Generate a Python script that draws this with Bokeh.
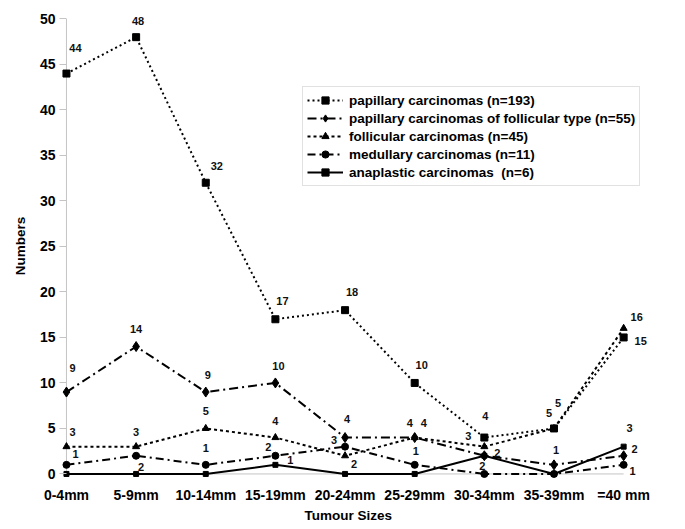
from bokeh.plotting import figure
from bokeh.models import (ColumnDataSource, LabelSet, Legend, LegendItem,
                          FixedTicker, Range1d, Title)
from bokeh.core.properties import value
from bokeh.embed import file_html
from bokeh.resources import INLINE

# ---- data ----
sizes = ["0-4mm", "5-9mm", "10-14mm", "15-19mm", "20-24mm",
         "25-29mm", "30-34mm", "35-39mm", "=40 mm"]
papillary = [44, 48, 32, 17, 18, 10, 4, 5, 15]
pap_follicular = [9, 14, 9, 10, 4, 4, 2, 1, 2]
follicular = [3, 3, 5, 4, 2, 4, 3, 5, 16]
medullary = [1, 2, 1, 2, 3, 1, 0, 0, 1]
anaplastic = [0, 0, 0, 1, 0, 0, 2, 0, 3]
y_ticks = list(range(0, 51, 5))

names = ["papillary carcinomas (n=193)",
         "papillary carcinomas of follicular type (n=55)",
         "follicular carcinomas (n=45)",
         "medullary carcinomas (n=11)",
         "anaplastic carcinomas  (n=6)"]

# ---- label offsets in pixels (dx right, dy down) ----
pap_off = [(9, -26), (2, -16), (11, -17), (7, -18), (7, -18), (7, -18), (1, -22), (-5, -15), (17, 4)]
pft_off = [(6, -24), (0, -18), (2, -17), (3, -17), (2, -19), (9, -15), (13, -3), (2, -15), (11, -7)]
fol_off = [(6, -15), (0, -15), (0, -17), (0, -17), (9, 8), (-5, -15), (-16, -11), (4, -25), (13, -11)]
med_off = [(9, -11), (5, 11), (0, -17), (-7, -9), (-11, -7), (1, -14), (0, 0), (0, 0), (9, 6)]
ana_off = [(0, 0), (0, 0), (0, 0), (15, -5), (0, 0), (0, 0), (-2, 10), (0, 0), (6, -19)]

FONT = "Liberation Sans"
AXIS_GREY = "#c4c4c4"

p = figure(frame_width=592, frame_height=465,
           min_border_left=59, min_border_right=20, min_border_top=13, min_border_bottom=5,
           x_range=Range1d(-0.1, 8.4), y_range=Range1d(-0.5, 50.6),
           output_backend="svg", toolbar_location=None, tools="")
p.outline_line_color = None
p.xgrid.visible = False
p.ygrid.visible = False
p.background_fill_color = "white"
p.border_fill_color = "white"

xs = list(range(len(sizes)))

# axis lines drawn at the data origin
p.segment(x0=[0, 0], y0=[0, 0], x1=[xs[-1], 0], y1=[0, y_ticks[-1]],
          line_color=AXIS_GREY, line_width=1)

series = [
    (papillary, "2 3", "square", 7, pap_off),
    (pap_follicular, "9 4 2 4", "diamond", 10, pft_off),
    (follicular, "3 3", "triangle", 7, fol_off),
    (medullary, "8 4 2 4", "circle", 7, med_off),
    (anaplastic, "solid", "square", 5, ana_off),
]

items = []
for (vals, dash, marker, msize, offs), name in zip(series, names):
    src = ColumnDataSource(dict(
        x=xs, y=vals,
        t=[str(v) if v > 0 else "" for v in vals],
        dx=[o[0] for o in offs],
        dy=[-o[1] for o in offs],
    ))
    lr = p.line("x", "y", source=src, line_color="black", line_width=2, line_dash=dash)
    sr = p.scatter("x", "y", source=src, marker=marker, size=msize,
                   fill_color="black", line_color="black")
    p.add_layout(LabelSet(x="x", y="y", text="t", x_offset="dx", y_offset="dy",
                          source=src, text_font=value(FONT), text_font_size="11px",
                          text_font_style="bold", text_color="#111111",
                          text_align="center", text_baseline="middle"))
    items.append(LegendItem(label=name, renderers=[lr, sr]))

# ---- axes ----
p.xaxis.ticker = FixedTicker(ticks=xs)
p.xaxis.major_label_overrides = {i: s for i, s in enumerate(sizes)}
p.yaxis.ticker = FixedTicker(ticks=y_ticks)
for ax in (p.xaxis[0], p.yaxis[0]):
    ax.axis_line_color = None
    ax.major_tick_line_color = AXIS_GREY
    ax.minor_tick_line_color = None
    ax.major_label_text_font = FONT
    ax.major_label_text_font_size = "14px"
    ax.major_label_text_font_style = "bold"
    ax.major_label_text_color = "black"
p.xaxis.major_tick_line_color = None
p.xaxis.major_tick_out = 0
p.xaxis.major_tick_in = 0
p.xaxis.major_label_standoff = 8
p.yaxis.major_tick_out = 0
p.yaxis.major_tick_in = 7
p.yaxis.major_label_standoff = 4
p.yaxis.axis_label = "Numbers"
p.yaxis.axis_label_standoff = 9
p.yaxis.axis_label_text_font = FONT
p.yaxis.axis_label_text_font_size = "13.5px"
p.yaxis.axis_label_text_font_style = "bold"
p.yaxis.axis_label_text_color = "black"

p.add_layout(Title(text="Tumour Sizes", align="left", offset=245, standoff=1,
                   text_font=FONT, text_font_size="13.5px", text_font_style="bold",
                   text_color="black"), "below")

legend = Legend(items=items, location=(243, 292),
                padding=4, spacing=0, glyph_height=18, label_height=18,
                glyph_width=36, label_standoff=6,
                label_text_font=FONT, label_text_font_size="13.5px",
                label_text_font_style="bold", label_text_color="black",
                border_line_color=AXIS_GREY, border_line_width=1,
                background_fill_color="white", background_fill_alpha=1)
p.add_layout(legend)

open("out.html", "w").write(file_html(p, INLINE))
